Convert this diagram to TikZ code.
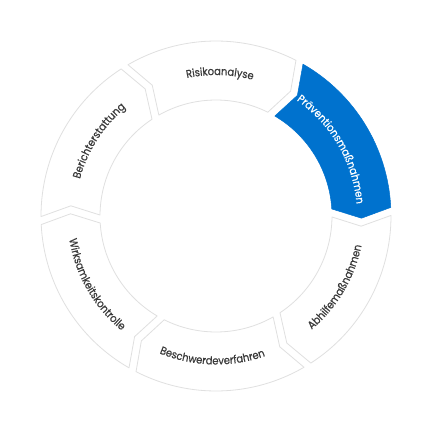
\documentclass[tikz,border=0pt]{standalone}
\usepackage{fontspec}
\newfontfamily\lblfont{Poppins}[FakeBold=0.5,FakeStretch=0.9]
\usetikzlibrary{decorations.text}
\definecolor{ringblue}{RGB}{0,114,206}
\definecolor{ringedge}{RGB}{224,224,224}
\definecolor{lbl}{RGB}{58,58,58}
\newcommand{\ringseg}[2]{%
  \pgfmathsetmacro\aO{#1-\doo}%
  \pgfmathsetmacro\bO{#1-60+\doo}%
  \pgfmathsetmacro\tipA{#1-60+\dmm-\dep}%
  \pgfmathsetmacro\bI{#1-60+\dii}%
  \pgfmathsetmacro\aI{#1-\dii}%
  \pgfmathsetmacro\notchA{#1-\dmm-\dep}%
  \path[#2] (\aO:\Ro) arc[start angle=\aO, end angle=\bO, radius=\Ro]
    -- (\tipA:\Rm) -- (\bI:\Ri) arc[start angle=\bI, end angle=\aI, radius=\Ri]
    -- (\notchA:\Rm) -- cycle;
}
\newcommand{\ringlabel}[5]{% center angle, cw(1)/ccw(0), radius, colour, text
  \ifnum#2=1
    \pgfmathsetmacro\sA{#1+29}\pgfmathsetmacro\eA{#1-29}%
  \else
    \pgfmathsetmacro\sA{#1-29}\pgfmathsetmacro\eA{#1+29}%
  \fi
  \path[decorate, decoration={text along path, text align=center,
     text={|\lblfont\fontsize{11}{13}\selectfont\color{#4}|#5}}]
     (\sA:#3) arc[start angle=\sA, end angle=\eA, radius=#3];
}
\tikzset{
  segplain/.style={fill=white, draw=ringedge, line width=0.8pt, line join=round},
  segblue/.style={fill=ringblue, draw=ringblue, line width=0.5pt, line join=round}
}
\begin{document}
\begin{tikzpicture}[x=1pt,y=1pt]
\useasboundingbox[fill=white] (-216,-216) rectangle (216,216);
\def\Ro{175}\def\Ri{116}\def\Rm{145.5}
\def\doo{1.31}\def\dii{1.98}\def\dmm{1.575}\def\dep{3.94}
\ringseg{121.5}{segplain}
\ringseg{61.5}{segblue}
\ringseg{1.5}{segplain}
\ringseg{-58.5}{segplain}
\ringseg{241.5}{segplain}
\ringseg{181.5}{segplain}
\ringlabel{88.4}{1}{141}{lbl}{Risikoanalyse}
\ringlabel{30}{1}{141}{white}{Präventionsmaßnahmen}
\ringlabel{-30.7}{0}{148.5}{lbl}{Abhilfemaßnahmen}
\ringlabel{268.5}{0}{148.5}{lbl}{Beschwerdeverfahren}
\ringlabel{209.75}{0}{148.5}{lbl}{Wirksamkeitskontrolle}
\ringlabel{147.3}{1}{141}{lbl}{Berichterstattung}
\end{tikzpicture}
\end{document}
